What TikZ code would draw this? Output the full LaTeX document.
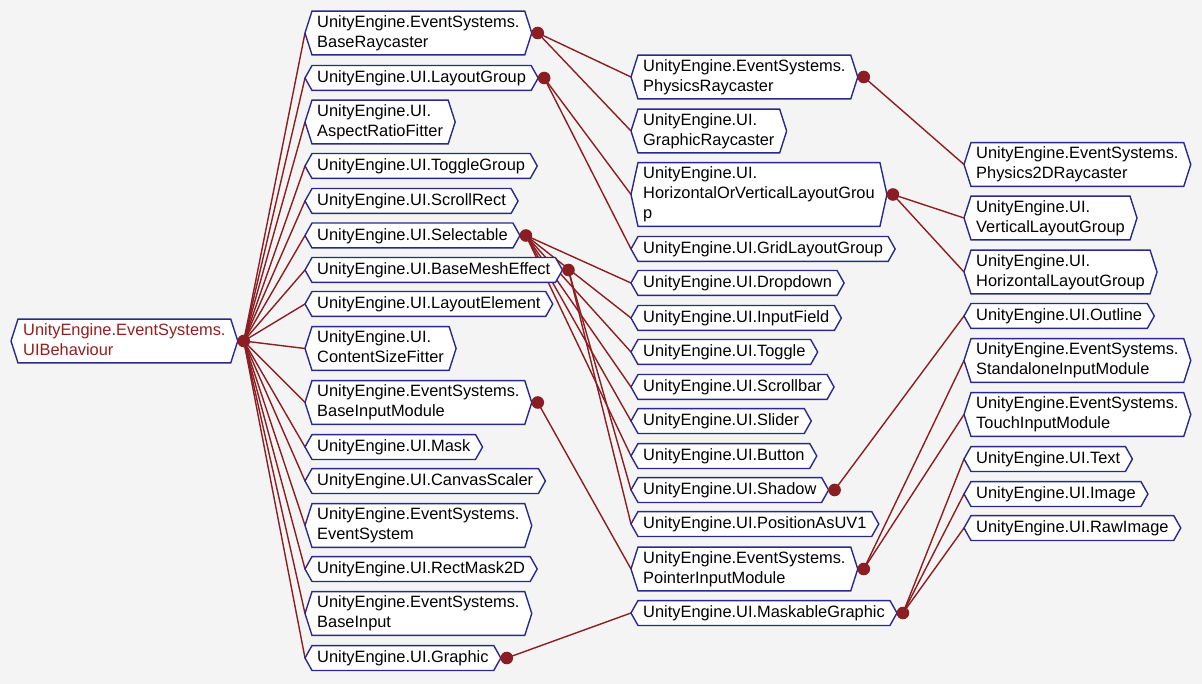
\documentclass[tikz,border=0pt]{standalone}
\usepackage{fontspec}
\setmainfont{Liberation Sans}
\pgfdeclarelayer{bg}
\pgfdeclarelayer{edgel}
\pgfdeclarelayer{hexl}
\pgfsetlayers{bg,edgel,hexl,main}
\definecolor{edgecol}{RGB}{139,30,34}
\definecolor{navy}{RGB}{42,42,140}
\definecolor{bgcol}{RGB}{244,244,244}
\definecolor{roottext}{RGB}{150,30,30}
\newcommand\mystrut{\rule[-3.5pt]{0pt}{16.5pt}}
\tikzset{
  hexn/.style={inner xsep=5pt, inner ysep=4pt, align=left, anchor=west,
    font=\fontsize{16.4}{20}\selectfont,
    execute at begin node=\mystrut, execute at end node=\mystrut},
  hexshape/.style={fill=white, draw=navy, line width=1.4pt, line join=miter},
  conn/.style={draw=edgecol, line width=1.4pt},
  dotc/.style={fill=edgecol, draw=none},
}
\newcommand\hx[4][]{%
  \node[hexn,#1] (#2) at (#3) {#4};
  \coordinate (#2-in) at ([xshift=-7pt]#2.west);
  \coordinate (#2-out) at ([xshift=13pt]#2.east);
  \begin{pgfonlayer}{hexl}
    \path[hexshape] (#2.north west) -- (#2.north east) -- ([xshift=7pt]#2.east)
      -- (#2.south east) -- (#2.south west) -- ([xshift=-7pt]#2.west) -- cycle;
  \end{pgfonlayer}}
\newcommand\kids[2]{%
  \begin{pgfonlayer}{edgel}
  \foreach \c in {#2} {\draw[conn] (#1-out) -- (\c-in);}
  \end{pgfonlayer}
  \fill[dotc] (#1-out) circle (6.3pt);}

\begin{document}
\begin{tikzpicture}[x=1pt,y=-1pt]
\begin{pgfonlayer}{bg}
  \fill[bgcol] (0,0) rectangle (1202,684);
\end{pgfonlayer}
\useasboundingbox (0,0) rectangle (1202,684);

% root
\hx[text=roottext]{root}{18,341}{UnityEngine.EventSystems.\\UIBehaviour}

% column 1
\hx{braycaster}{312,33}{UnityEngine.EventSystems.\\BaseRaycaster}
\hx{layoutgroup}{312,78}{UnityEngine.UI.LayoutGroup}
\hx{aspect}{312,122}{UnityEngine.UI.\\AspectRatioFitter}
\hx{togglegroup}{312,166}{UnityEngine.UI.ToggleGroup}
\hx{scrollrect}{312,201}{UnityEngine.UI.ScrollRect}
\hx{selectable}{312,235.5}{UnityEngine.UI.Selectable}
\hx{meshfx}{312,270}{UnityEngine.UI.BaseMeshEffect}
\hx{layoutel}{312,304}{UnityEngine.UI.LayoutElement}
\hx{csf}{312,348.5}{UnityEngine.UI.\\ContentSizeFitter}
\hx{binput}{312,402.5}{UnityEngine.EventSystems.\\BaseInputModule}
\hx{mask}{312,447}{UnityEngine.UI.Mask}
\hx{scaler}{312,481}{UnityEngine.UI.CanvasScaler}
\hx{evsys}{312,525.5}{UnityEngine.EventSystems.\\EventSystem}
\hx{rectmask}{312,569}{UnityEngine.UI.RectMask2D}
\hx{baseinput}{312,613.5}{UnityEngine.EventSystems.\\BaseInput}
\hx{graphic}{312,658}{UnityEngine.UI.Graphic}

% column 2
\hx{physray}{638,77}{UnityEngine.EventSystems.\\PhysicsRaycaster}
\hx{graphray}{638,131}{UnityEngine.UI.\\GraphicRaycaster}
\hx{hovlg}{638,194.5}{UnityEngine.UI.\\HorizontalOrVerticalLayoutGrou\\p}
\hx{grid}{638,249}{UnityEngine.UI.GridLayoutGroup}
\hx{dropdown}{638,283}{UnityEngine.UI.Dropdown}
\hx{inputfield}{638,318}{UnityEngine.UI.InputField}
\hx{toggle}{638,352}{UnityEngine.UI.Toggle}
\hx{scrollbar}{638,387}{UnityEngine.UI.Scrollbar}
\hx{slider}{638,421}{UnityEngine.UI.Slider}
\hx{button}{638,456}{UnityEngine.UI.Button}
\hx{shadow}{638,490}{UnityEngine.UI.Shadow}
\hx{posuv}{638,524}{UnityEngine.UI.PositionAsUV1}
\hx{pointer}{638,569}{UnityEngine.EventSystems.\\PointerInputModule}
\hx{maskable}{638,613}{UnityEngine.UI.MaskableGraphic}

% column 3
\hx{phys2d}{971,164.5}{UnityEngine.EventSystems.\\Physics2DRaycaster}
\hx{vlg}{971,218}{UnityEngine.UI.\\VerticalLayoutGroup}
\hx{hlg}{971,272}{UnityEngine.UI.\\HorizontalLayoutGroup}
\hx{outline}{971,316}{UnityEngine.UI.Outline}
\hx{standalone}{971,360.5}{UnityEngine.EventSystems.\\StandaloneInputModule}
\hx{touch}{971,414.5}{UnityEngine.EventSystems.\\TouchInputModule}
\hx{text}{971,459}{UnityEngine.UI.Text}
\hx{image}{971,494}{UnityEngine.UI.Image}
\hx{rawimage}{971,528}{UnityEngine.UI.RawImage}

% connectors
\kids{root}{braycaster,layoutgroup,aspect,togglegroup,scrollrect,selectable,meshfx,layoutel,csf,binput,mask,scaler,evsys,rectmask,baseinput,graphic}
\kids{braycaster}{physray,graphray}
\kids{layoutgroup}{hovlg,grid}
\kids{selectable}{dropdown,inputfield,toggle,scrollbar,slider,button}
\kids{meshfx}{shadow,posuv}
\kids{binput}{pointer}
\kids{graphic}{maskable}
\kids{physray}{phys2d}
\kids{hovlg}{vlg,hlg}
\kids{shadow}{outline}
\kids{pointer}{standalone,touch}
\kids{maskable}{text,image,rawimage}
\end{tikzpicture}
\end{document}
